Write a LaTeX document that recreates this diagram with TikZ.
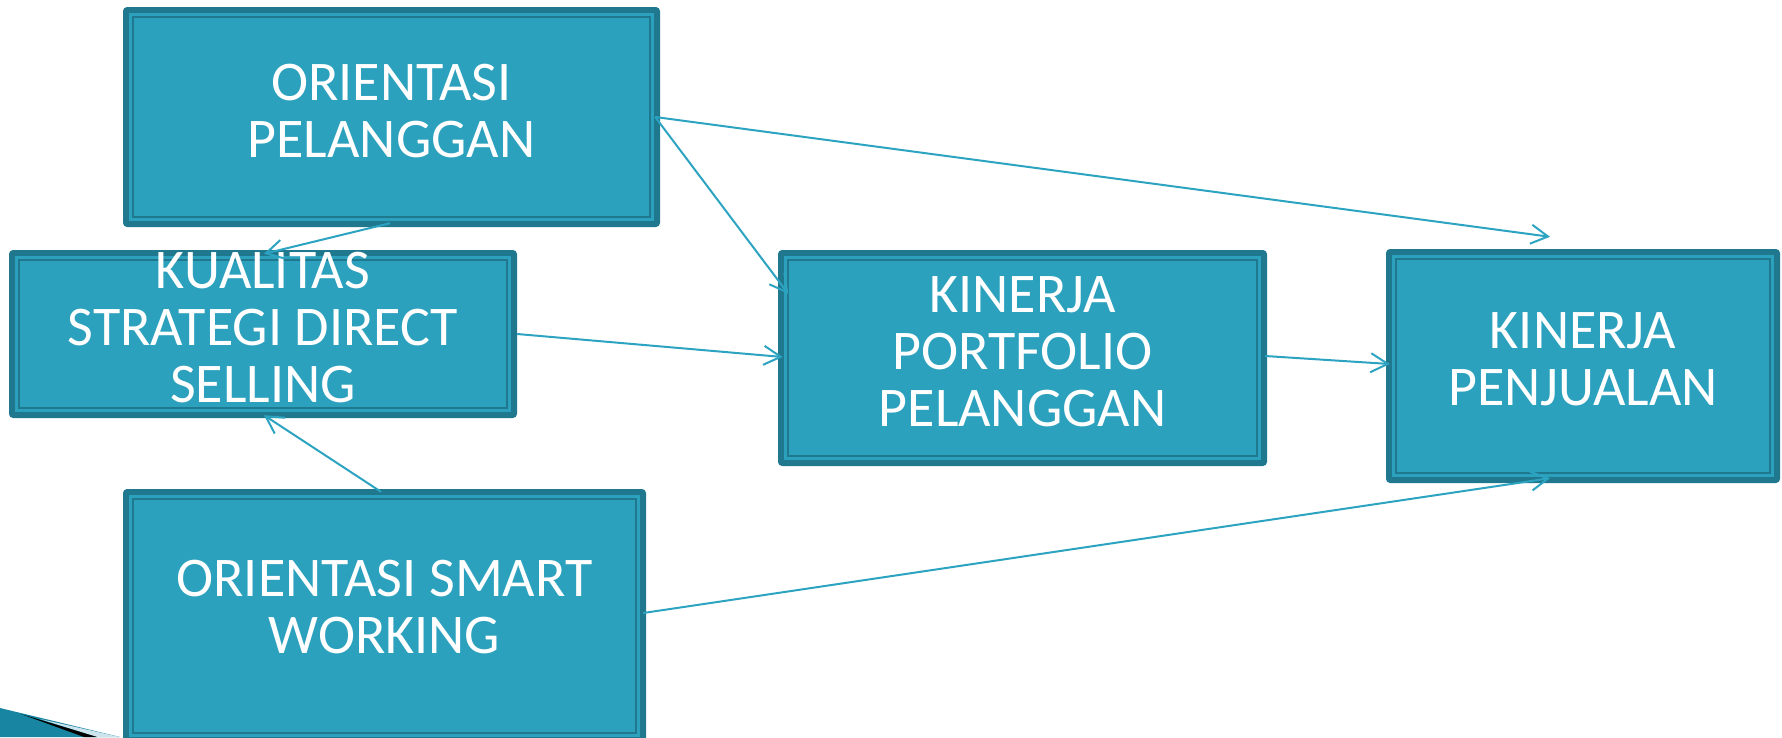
\documentclass[tikz,border=0pt]{standalone}
\usepackage{fontspec}
\setmainfont{Carlito}
\usetikzlibrary{arrows.meta}

\definecolor{panelfill}{RGB}{44,161,190}
\definecolor{paneledge}{RGB}{31,120,141}
\definecolor{linkcol}{RGB}{44,163,193}
\definecolor{cornerteal}{RGB}{24,134,162}
\definecolor{cornerlight}{RGB}{205,228,236}

\begin{document}
\begin{tikzpicture}[x=1pt,y=-1pt,
  panel/.style={rectangle, rounded corners=4pt, fill=paneledge, inner sep=0pt,
    path picture={
      \fill[panelfill, sharp corners]
        ([shift={(6.3pt,-6.3pt)}]path picture bounding box.north west) rectangle
        ([shift={(-6.3pt,6.3pt)}]path picture bounding box.south east);
      \draw[paneledge, line width=2pt, sharp corners]
        ([shift={(9.8pt,-9.8pt)}]path picture bounding box.north west) rectangle
        ([shift={(-9.8pt,9.8pt)}]path picture bounding box.south east);
    }},
  paneltext/.style={align=center, text=white, inner sep=0pt,
    font=\fontsize{56}{57}\selectfont},
  link/.style={draw=linkcol, line width=2pt,
    -{Straight Barb[length=17pt,width=19pt]}}
]
\useasboundingbox (0,0) rectangle (1782,737);
\clip (0,0) rectangle (1782,737);

% decorative corner wedge
\fill[cornerteal] (0,708) -- (120,737) -- (0,737) -- cycle;
\fill[cornerlight] (40,719) -- (120,737) -- (97,737) -- cycle;
\fill[black] (21,714) -- (97,737) -- (84,737) -- cycle;

% panels
\node[panel, minimum width=537pt, minimum height=220pt,
  label={[paneltext, yshift=5.5pt]center:ORIENTASI\\PELANGGAN}] (A) at (391.5,117) {};
\node[panel, minimum width=508pt, minimum height=168pt,
  label={[paneltext, yshift=6pt]center:KUALITAS\\STRATEGI DIRECT\\SELLING}] (B) at (263,334) {};
\node[panel, minimum width=523pt, minimum height=254pt,
  label={[paneltext, yshift=9pt]center:ORIENTASI SMART\\WORKING}] (C) at (384.5,616) {};
\node[panel, minimum width=489pt, minimum height=216pt,
  label={[paneltext, yshift=6.5pt]center:KINERJA\\PORTFOLIO\\PELANGGAN}] (D) at (1022.5,358) {};
\node[panel, minimum width=394pt, minimum height=234pt,
  label={[paneltext, yshift=7pt]center:KINERJA\\PENJUALAN}] (E) at (1583,366) {};

% connectors
\draw[link] ([xshift=-5pt]A.east) -- ([shift={(-33pt,12pt)}]E.north);
\draw[link] ([xshift=-5pt]A.east) -- ([shift={(10.5pt,-44pt)}]D.north west);
\draw[link] ([shift={(-1.5pt,4pt)}]A.south) -- ([shift={(1pt,-4pt)}]B.north);
\draw[link] (B.east) -- ([shift={(5pt,1pt)}]D.west);
\draw[link] ([shift={(-2pt,2pt)}]D.east) -- ([shift={(4pt,2pt)}]E.west);
\draw[link] ([shift={(-3.5pt,-3pt)}]C.north) -- ([shift={(1pt,3pt)}]B.south);
\draw[link] ([shift={(-3pt,3pt)}]C.east) -- ([shift={(-33pt,5pt)}]E.south);
\end{tikzpicture}
\end{document}
